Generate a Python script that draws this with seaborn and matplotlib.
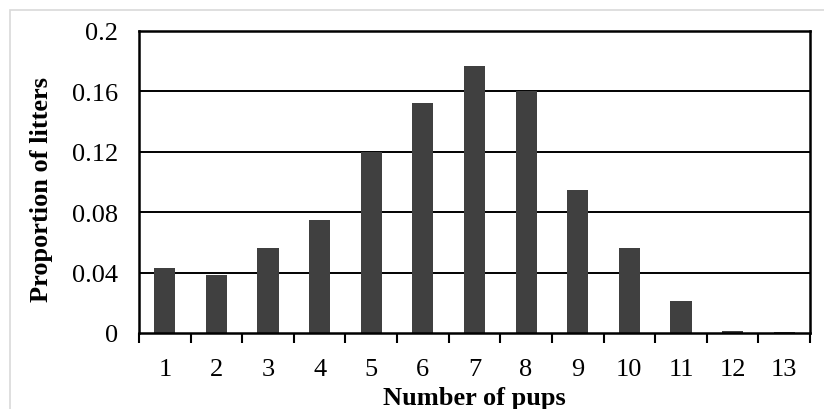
import matplotlib
matplotlib.use("Agg")
import matplotlib.pyplot as plt
import seaborn as sns
import pandas as pd
import numpy as np
from matplotlib.patches import Rectangle

# litter size distribution
pups = ["1", "2", "3", "4", "5", "6", "7", "8", "9", "10", "11", "12", "13"]
proportion = [0.043, 0.0385, 0.056, 0.075, 0.12, 0.152, 0.177, 0.160,
              0.095, 0.056, 0.021, 0.0016, 0.0004]
y_ticks = [0, 0.04, 0.08, 0.12, 0.16, 0.2]
y_tick_labels = ["0", "0.04", "0.08", "0.12", "0.16", "0.2"]

sns.set_theme(style="white")
plt.rcParams["font.family"] = ["Liberation Serif", "DejaVu Serif"]

df = pd.DataFrame({"Number of pups": pups, "Proportion of litters": proportion})

fig = plt.figure(figsize=(8.24, 4.1), dpi=100)
ax = fig.add_axes([139 / 824, 1 - 334 / 410, 671 / 824, 302 / 410])

# light gray chart frame like the excel export
fig.patches.append(Rectangle((10 / 824, -0.1), 1.2, (410 - 11) / 410 + 0.1,
                             transform=fig.transFigure, fill=False,
                             edgecolor="#d9d9d9", linewidth=1.2))

for y in y_ticks[1:-1]:
    ax.axhline(y, color="black", linewidth=1.4, zorder=0)

sns.barplot(data=df, x="Number of pups", y="Proportion of litters",
            color="#404040", saturation=1, width=0.41, linewidth=0,
            ax=ax, zorder=2)

ax.set_xlim(-0.5, len(pups) - 0.5)
ax.set_ylim(0, 0.2)
ax.set_yticks(y_ticks)
ax.set_yticklabels(y_tick_labels)

ax.set_xticks(np.arange(-0.5, len(pups)), minor=True)
ax.tick_params(axis="x", which="major", length=0, pad=18, labelsize=19, colors="black")
ax.tick_params(axis="x", which="minor", length=7, width=1.5, direction="out",
               color="black", bottom=True)
ax.tick_params(axis="y", length=0, pad=15, labelsize=19, colors="black")

for s in ax.spines.values():
    s.set_visible(True)
    s.set_color("black")
    s.set_linewidth(1.8)

ax.set_xlabel("Number of pups", fontsize=19, fontweight="bold", labelpad=4, color="black")
ax.set_ylabel("Proportion of litters", fontsize=19, fontweight="bold", color="black")
ax.yaxis.set_label_coords(-0.128, 0.477)

fig.savefig("out.png", dpi=100)
